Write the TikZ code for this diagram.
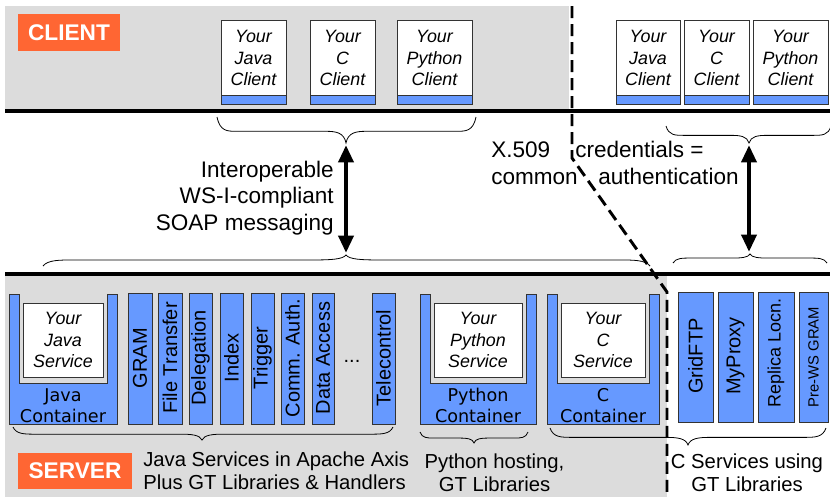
\documentclass[tikz,border=0pt]{standalone}
\usepackage{fontspec}
\setmainfont{Liberation Sans}
\newfontfamily\contfont{DejaVu Sans}
\usetikzlibrary{arrows.meta}
\definecolor{gblue}{HTML}{6699FF}
\definecolor{bggray}{HTML}{DCDCDC}
\definecolor{orng}{HTML}{FF6633}
\definecolor{edgec}{HTML}{333333}
\newcommand{\gbrace}[6]{%
 \draw[bracestyle] (#1,#4) .. controls ({#1+0.15*(#6)},{#4+0.55*(#5)}) and ({#1+0.5*(#6)},{#4+0.55*(#5)}) .. ({#1+#6},{#4+0.55*(#5)})
  -- ({#3-#6},{#4+0.55*(#5)}) .. controls ({#3-0.5*(#6)},{#4+0.55*(#5)}) and ({#3-0.1*(#6)},{#4+0.6*(#5)}) .. (#3,{#4+#5})
  .. controls ({#3+0.1*(#6)},{#4+0.6*(#5)}) and ({#3+0.5*(#6)},{#4+0.55*(#5)}) .. ({#3+#6},{#4+0.55*(#5)})
  -- ({#2-#6},{#4+0.55*(#5)}) .. controls ({#2-0.5*(#6)},{#4+0.55*(#5)}) and ({#2-0.15*(#6)},{#4+0.55*(#5)}) .. (#2,#4);}
\newcommand{\clientbox}[4]{%
 \draw[whitebox] (#2,20) rectangle (#3,104);
 \draw[bluebox] (#2,95) rectangle (#3,104);
 \node[clienttxt] (#1) at ({(#2+#3)/2},58) {Your\\#4\\Client};}
\newcommand{\contbox}[5]{%
 \draw[bluebox] (#2,294) -- ({#2+10},294) -- ({#2+10},383) -- ({#3-10},383) -- ({#3-10},294) -- (#3,294) -- (#3,424) -- (#2,424) -- cycle;
 \draw[whitebox] ({#2+14},303) rectangle ({#3-14},377);
 \node[clienttxt] (#1s) at ({(#2+#3)/2},340) {Your\\#4\\Service};
 \node[conttxt] (#1c) at ({(#2+#3)/2},405.5) {#5\\Container};}
\newcommand{\barbox}[5]{%
 \draw[bluebox] (#2,#5) rectangle (#3,424);
 \node[bartxt,#4] (#1) at ({(#2+#3)/2},358) {#1};}
\begin{document}
\begin{tikzpicture}[x=0.75pt,y=-0.75pt,
  boxline/.style={draw=edgec, line width=0.7pt},
  bluebox/.style={boxline, fill=gblue},
  whitebox/.style={boxline, fill=white},
  sepline/.style={line width=2.6pt},
  divider/.style={line width=2.2pt, dash pattern=on 9pt off 4.5pt},
  bracestyle/.style={line width=0.6pt},
  dbl/.style={line width=3.3pt, {Triangle[length=13pt,width=11pt]}-{Triangle[length=13pt,width=11pt]}, shorten <=1.5pt, shorten >=1.5pt},
  clienttxt/.style={font=\fontsize{13.4}{16}\selectfont\itshape, align=center, inner sep=0pt},
  conttxt/.style={font=\contfont\fontsize{13.2}{15.75}\selectfont, align=center, inner sep=0pt},
  bartxt/.style={font=\fontsize{15}{18}\selectfont, rotate=90, inner sep=0pt},
  midtxt/.style={font=\fontsize{16.9}{19.9}\selectfont, inner sep=0pt},
  bottxt/.style={font=\fontsize{15.2}{17.6}\selectfont, inner sep=0pt},
  tag/.style={fill=orng, text=white, font=\fontsize{17}{20}\selectfont\bfseries, inner sep=0pt}]
\useasboundingbox (0,0) rectangle (830,497);
% background bands
\fill[bggray] (5,6) rectangle (569,109);
\fill[bggray] (5,276) rectangle (667,497);
% separator lines
\draw[sepline] (5,111) -- (830,111);
\draw[sepline] (5,274) -- (830,274);
% tags
\node[tag, minimum width=76.5pt, minimum height=27.75pt] (client) at (69,32.5) {CLIENT};
\node[tag, minimum width=85.5pt, minimum height=27pt] (server) at (75,471) {SERVER};
% client boxes
\clientbox{cj}{221}{286}{Java}
\clientbox{cc}{310}{375}{C}
\clientbox{cp}{397}{472}{Python}
\clientbox{rj}{616}{680}{Java}
\clientbox{rc}{684}{749}{C}
\clientbox{rp}{753}{828}{Python}
% containers
\contbox{java}{9}{117}{Java}{Java}
\contbox{py}{420}{536}{Python}{Python}
\contbox{cx}{547}{659}{C}{C}
% java service bars
\barbox{GRAM}{128}{152}{}{293}
\barbox{File Transfer}{158}{182}{}{293}
\barbox{Delegation}{189}{212}{}{293}
\barbox{Index}{220}{243}{}{293}
\barbox{Trigger}{251}{274}{}{293}
\barbox{Comm. Auth.}{281}{304}{}{293}
\barbox{Data Access}{312}{334}{}{293}
\barbox{Telecontrol}{372}{395}{}{293}
\node[font=\fontsize{15}{18}\selectfont, inner sep=0pt, anchor=base] (dots) at (352,362) {...};
% C services bars
\draw[bluebox] (678,292) rectangle (713,422);
\node[bartxt] (gridftp) at (695.5,356) {GridFTP};
\draw[bluebox] (718,292) rectangle (753,422);
\node[bartxt] (myproxy) at (735.5,356) {MyProxy};
\draw[bluebox] (758,292) rectangle (794,422);
\node[bartxt, font=\fontsize{13.5}{16}\selectfont] (replica) at (776,353) {Replica Locn.};
\draw[bluebox] (799,292) rectangle (828,422);
\node[bartxt, font=\fontsize{11.1}{13}\selectfont] (prews) at (813.5,357) {Pre-WS GRAM};
% dashed divider
\coordinate (dtop) at (572,6);
\coordinate (dbend) at (572,158);
\coordinate (dknee) at (667,292);
\coordinate (dbot) at (667,497);
\draw[divider] (dtop) -- (dbend) -- (dknee) -- (dbot);
% braces
\gbrace{217}{476}{346}{117}{26}{20}
\gbrace{666}{831}{749}{126}{17}{18}
\gbrace{43}{650}{346}{266}{-11}{32}
\gbrace{673}{827}{750}{263}{-9}{18}
\gbrace{13}{393}{202}{427}{13}{22}
\gbrace{420}{528}{474}{432}{11}{14}
\gbrace{550}{826}{688}{428}{17}{22}
\coordinate (ulc) at (346,143);
\coordinate (llc) at (346,255);
\coordinate (urc) at (749,143);
\coordinate (lrc) at (749,254);
\draw[dbl] (ulc) -- (llc);
\draw[dbl] (urc) -- (lrc);
% middle labels
\node[midtxt, align=right, anchor=east] (soap) at (334,198) {Interoperable\\WS-I-compliant\\SOAP messaging};
\node[midtxt, anchor=base west] (x509) at (491,157) {X.509};
\node[midtxt, anchor=base west] (common) at (491,184) {common};
\node[midtxt, anchor=base west] (cred) at (575,157) {credentials =};
\node[midtxt, anchor=base west] (auth) at (598,184) {authentication};
% bottom labels
\node[bottxt, align=left, anchor=west] (javalbl) at (143,471) {Java Services in Apache Axis\\Plus GT Libraries \& Handlers};
\node[bottxt, align=center] (pylbl) at (494.5,472.5) {Python hosting,\\GT Libraries};
\node[bottxt, align=center] (clbl) at (747,472.5) {C Services using\\GT Libraries};
\end{tikzpicture}
\end{document}
